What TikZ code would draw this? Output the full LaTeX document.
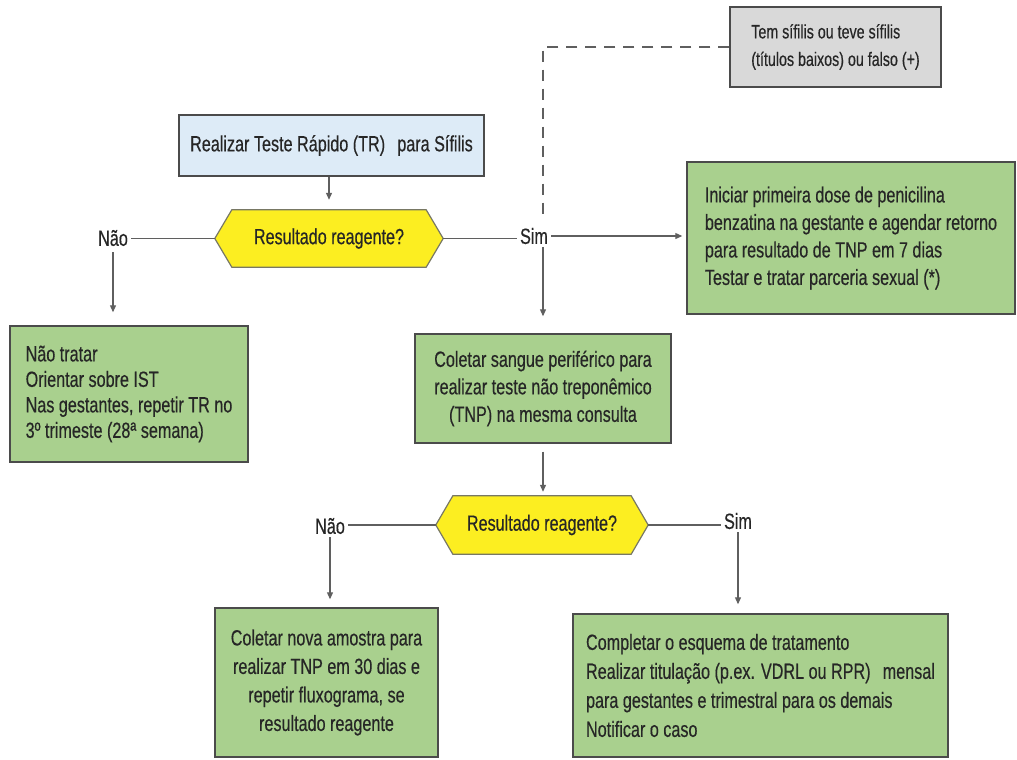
\documentclass[tikz,border=0pt]{standalone}
\usepackage{fontspec}
\setmainfont{Liberation Sans}[FakeStretch=0.735,FakeBold=0.4]
\usetikzlibrary{arrows.meta,backgrounds}
\definecolor{boxgreen}{RGB}{169,208,142}
\definecolor{boxblue}{RGB}{221,235,247}
\definecolor{boxgray}{RGB}{217,217,217}
\definecolor{hexyellow}{RGB}{252,238,33}
\definecolor{edgegray}{RGB}{75,75,75}
\definecolor{hexedge}{RGB}{120,120,100}
\definecolor{linegray}{RGB}{95,95,95}
\definecolor{txt}{RGB}{38,38,38}
\tikzset{
  mainfont/.style={font=\fontsize{22}{27.5}\selectfont},
  box/.style={draw=edgegray, line width=1.4pt, inner sep=0pt, text=txt, mainfont},
  greenbox/.style={box, fill=boxgreen},
  hexnode/.style={inner sep=0pt, text=txt, mainfont},
  hexdraw/.style={draw=hexedge, line width=1.2pt, fill=hexyellow},
  lbl/.style={text=txt, mainfont, inner sep=3pt},
  conn/.style={draw=linegray, line width=1.1pt},
  arr/.style={conn, -{Triangle[length=7pt,width=6pt]}},
  dashconn/.style={conn, dash pattern=on 11pt off 8pt}
}
\begin{document}
\begin{tikzpicture}[x=1pt,y=-1pt]
\useasboundingbox (0,0) rectangle (1017,760);

% boxes
\node[box, fill=boxgray, minimum width=211pt, minimum height=80pt, align=left,
      font=\fontsize{19.4}{27.5}\selectfont] (gray) at (835.5,47)
  {Tem sífilis ou teve sífilis\\(títulos baixos) ou falso (+)};
\node[box, fill=boxblue, minimum width=305pt, minimum height=61pt] (tr) at (331.5,145.5)
  {Realizar Teste Rápido (TR)\hspace{0.35em} para Sífilis};
\node[hexnode, minimum width=228pt, minimum height=57pt] (h1) at (329,238.5) {Resultado reagente?};
\node[lbl] (nao1) at (113,238) {Não};
\node[lbl] (sim1) at (534,236) {Sim};
\node[greenbox, minimum width=328pt, minimum height=152pt, align=left] (pen) at (851,238)
  {Iniciar primeira dose de penicilina\\benzatina na gestante e agendar retorno\\para resultado de TNP em 7 dias\\Testar e tratar parceria sexual (*)};
\node[greenbox, minimum width=238pt, minimum height=136pt, align=left,
      font=\fontsize{22}{25.5}\selectfont] (nt) at (129,394)
  {Não tratar\\Orientar sobre IST\\Nas gestantes, repetir TR no\\3º trimeste (28ª semana)};
\node[greenbox, minimum width=256pt, minimum height=109pt, align=center] (tnp) at (543,388.5)
  {Coletar sangue periférico para\\realizar teste não treponêmico\\(TNP) na mesma consulta};
\node[hexnode, minimum width=212pt, minimum height=58pt] (h2) at (542,525) {Resultado reagente?};
\node[lbl] (nao2) at (330,526) {Não};
\node[lbl] (sim2) at (738,521) {Sim};
\node[greenbox, minimum width=223pt, minimum height=149pt, align=center,
      font=\fontsize{22}{28.5}\selectfont] (nova) at (326.5,682.5)
  {Coletar nova amostra para\\realizar TNP em 30 dias e\\repetir fluxograma, se\\resultado reagente};
\node[greenbox, minimum width=375pt, minimum height=143pt, align=left,
      font=\fontsize{22}{29}\selectfont] (comp) at (760.5,685.5)
  {Completar o esquema de tratamento\\Realizar titulação (p.ex. VDRL ou RPR)\hspace{0.35em} mensal\\para gestantes e trimestral para os demais\\Notificar o caso};

% hexagon outlines
\begin{scope}[on background layer]
  \draw[hexdraw] (h1.west) -- ([xshift=17pt]h1.north west) -- ([xshift=-17pt]h1.north east)
    -- (h1.east) -- ([xshift=-17pt]h1.south east) -- ([xshift=17pt]h1.south west) -- cycle;
  \draw[hexdraw] (h2.west) -- ([xshift=17pt]h2.north west) -- ([xshift=-17pt]h2.north east)
    -- (h2.east) -- ([xshift=-17pt]h2.south east) -- ([xshift=17pt]h2.south west) -- cycle;
\end{scope}

% connectors
\draw[dashconn, shorten >=8pt] (gray.west) -| (tnp.north |- sim1.north);
\draw[arr, shorten >=10pt] (h1.north |- tr.south) -- (h1.north);
\draw[conn] (h1.west) -- (nao1.east |- h1.west);
\draw[conn] (h1.east) -- (sim1.west |- h1.east);
\draw[arr, shorten >=4pt] (sim1.east) -- (sim1.east -| pen.west);
\draw[arr, shorten <=3pt, shorten >=13pt] (nao1.south) -- (nao1.south |- nt.north);
\draw[arr, shorten >=17pt] (tnp.north |- sim1.south) -- (tnp.north);
\draw[arr, shorten <=8pt, shorten >=4pt] (tnp.south) -- (tnp.south |- h2.north);
\draw[conn] (h2.west) -- (nao2.east |- h2.west);
\draw[conn] (h2.east) -- (sim2.west |- h2.east);
\draw[arr, shorten >=8pt] (nao2.south) -- (nao2.south |- nova.north);
\draw[arr, shorten >=9pt] (sim2.south) -- (sim2.south |- comp.north);
\end{tikzpicture}
\end{document}
